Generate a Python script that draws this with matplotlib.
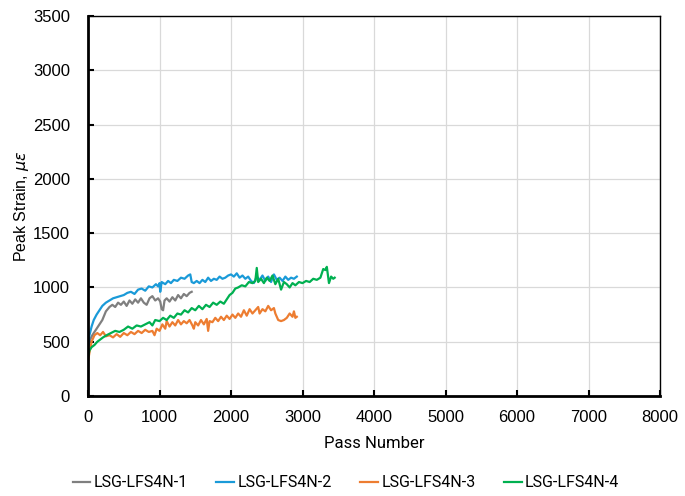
import matplotlib
matplotlib.use("Agg")
from matplotlib import pyplot as plt

# series: pass number vs peak strain
s1_x = [0, 30, 60, 100, 150, 200, 250, 300, 340, 380, 420, 460, 500, 540, 580, 620, 660, 700, 740, 780,
        820, 860, 900, 940, 980, 1010, 1030, 1050, 1070, 1100, 1140, 1180, 1220, 1260, 1300, 1340, 1380, 1420, 1450]
s1_y = [450, 520, 560, 600, 650, 700, 780, 820, 840, 820, 860, 840, 870, 830, 880, 850, 890, 860, 900, 860,
        840, 900, 920, 880, 900, 870, 800, 790, 880, 900, 870, 910, 880, 930, 900, 940, 920, 950, 960]

s2_x = [0, 20, 50, 80, 120, 160, 200, 250, 300, 350, 400, 450, 500, 550, 600, 650, 700, 750, 800, 850,
        900, 950, 980, 1000, 1010, 1030, 1080, 1120, 1160, 1200, 1250, 1300, 1350, 1400, 1430, 1450, 1480,
        1520, 1560, 1600, 1640, 1680, 1720, 1760, 1800, 1840, 1880, 1920, 1960, 2000, 2040, 2080, 2120,
        2160, 2200, 2240, 2280, 2320, 2360, 2400, 2440, 2480, 2520, 2560, 2600, 2640, 2680, 2720, 2760,
        2800, 2840, 2880, 2920]
s2_y = [440, 560, 640, 700, 750, 790, 830, 860, 880, 900, 910, 920, 930, 950, 960, 940, 980, 990, 970, 1010,
        1000, 1030, 1010, 1040, 960, 1050, 1030, 1060, 1040, 1070, 1060, 1090, 1080, 1110, 1120, 1050, 1040,
        1060, 1040, 1070, 1050, 1090, 1060, 1080, 1070, 1100, 1080, 1090, 1110, 1120, 1100, 1130, 1090,
        1110, 1080, 1100, 1060, 1040, 1100, 1070, 1110, 1060, 1100, 1050, 1120, 1070, 1090, 1060, 1100,
        1070, 1090, 1080, 1100]

s3_x = [0, 20, 50, 90, 130, 170, 210, 250, 300, 350, 400, 450, 500, 550, 600, 650, 700, 750, 800, 850,
        900, 930, 960, 1000, 1040, 1080, 1100, 1140, 1180, 1220, 1260, 1300, 1340, 1380, 1420, 1460, 1480,
        1500, 1540, 1580, 1620, 1660, 1680, 1700, 1740, 1780, 1820, 1860, 1900, 1940, 1980, 2020, 2060,
        2100, 2140, 2180, 2220, 2260, 2300, 2340, 2380, 2400, 2440, 2480, 2520, 2560, 2600, 2620, 2660,
        2700, 2740, 2780, 2820, 2860, 2880, 2900, 2920]
s3_y = [320, 400, 500, 560, 580, 560, 590, 550, 560, 540, 570, 545, 580, 560, 590, 570, 600, 580, 610, 590,
        600, 560, 620, 600, 660, 620, 690, 640, 680, 650, 700, 660, 690, 670, 700, 650, 620,
        680, 650, 700, 660, 710, 600, 690, 680, 720, 690, 730, 700, 740, 710, 750, 720,
        760, 730, 790, 740, 800, 760, 790, 820, 760, 800, 780, 830, 790, 810, 760, 700,
        690, 700, 720, 760, 730, 780, 720, 730]

s4_x = [0, 20, 50, 90, 130, 170, 210, 260, 320, 380, 440, 500, 560, 620, 680, 740, 800, 860, 900, 940,
        1000, 1050, 1100, 1150, 1200, 1250, 1300, 1350, 1400, 1450, 1500, 1550, 1600, 1650, 1700, 1750,
        1800, 1850, 1900, 1940, 1980, 2020, 2060, 2100, 2150, 2200, 2250, 2300, 2340, 2360, 2380, 2420,
        2460, 2500, 2540, 2580, 2620, 2660, 2700, 2740, 2780, 2820, 2860, 2900, 2950, 3000, 3050, 3100,
        3150, 3200, 3250, 3290, 3320, 3340, 3370, 3400, 3430, 3450]
s4_y = [360, 420, 450, 470, 500, 520, 540, 560, 580, 600, 590, 610, 640, 620, 650, 640, 660, 680, 650, 700,
        690, 720, 700, 740, 720, 760, 750, 790, 770, 810, 790, 830, 800, 840, 820, 860,
        840, 870, 850, 890, 930, 950, 990, 1000, 1020, 1010, 1050, 1040, 1060, 1180, 1050, 1080,
        1040, 1090, 1060, 1110, 1030, 1080, 980, 1050, 1030, 1000, 1040, 1020, 1050, 1040, 1060, 1050,
        1080, 1070, 1090, 1170, 1160, 1190, 1040, 1100, 1080, 1090]

labels = ['LSG-LFS4N-1', 'LSG-LFS4N-2', 'LSG-LFS4N-3', 'LSG-LFS4N-4']
colors = ['#7F7F7F', '#1A9AD8', '#ED7D31', '#00B050']

plt.rcParams['font.family'] = ['Liberation Sans', 'DejaVu Sans']

fig = plt.figure(figsize=(6.85, 4.96), dpi=100)
ax = fig.add_axes([0.1285, 0.2016, 0.835, 0.766])

series = [(s1_x, s1_y), (s2_x, s2_y), (s3_x, s3_y), (s4_x, s4_y)]
for (xs, ys), lab, c in zip(series, labels, colors):
    ax.plot(xs, ys, color=c, lw=1.6, label=lab)

ax.set_xlim(0, 8000)
ax.set_ylim(0, 3500)
ax.set_xticks(range(0, 8001, 1000))
ax.set_yticks(range(0, 3501, 500))
ax.grid(True, color='#D9D9D9', lw=0.9)
ax.set_axisbelow(True)
ax.tick_params(direction='in', length=4, width=1.5, labelsize=12)
ax.tick_params(axis='x', pad=10)
ax.tick_params(axis='y', pad=13)

for side in ['left', 'bottom']:
    ax.spines[side].set_linewidth(2)
for side in ['top', 'right']:
    ax.spines[side].set_linewidth(1)

ax.set_xlabel('Pass Number', fontsize=12, family=['Roboto', 'DejaVu Sans'], labelpad=8)
ax.set_ylabel(r'Peak Strain, $\mu\varepsilon$', fontsize=11.5, labelpad=1)

fig.legend(loc='center', bbox_to_anchor=(0.505, 0.027), ncol=4, frameon=False,
           handlelength=1.1, handletextpad=0.2, columnspacing=1.8,
           prop={'family': ['Roboto', 'DejaVu Sans'], 'size': 11.5})

fig.savefig('out.png', dpi=100)
